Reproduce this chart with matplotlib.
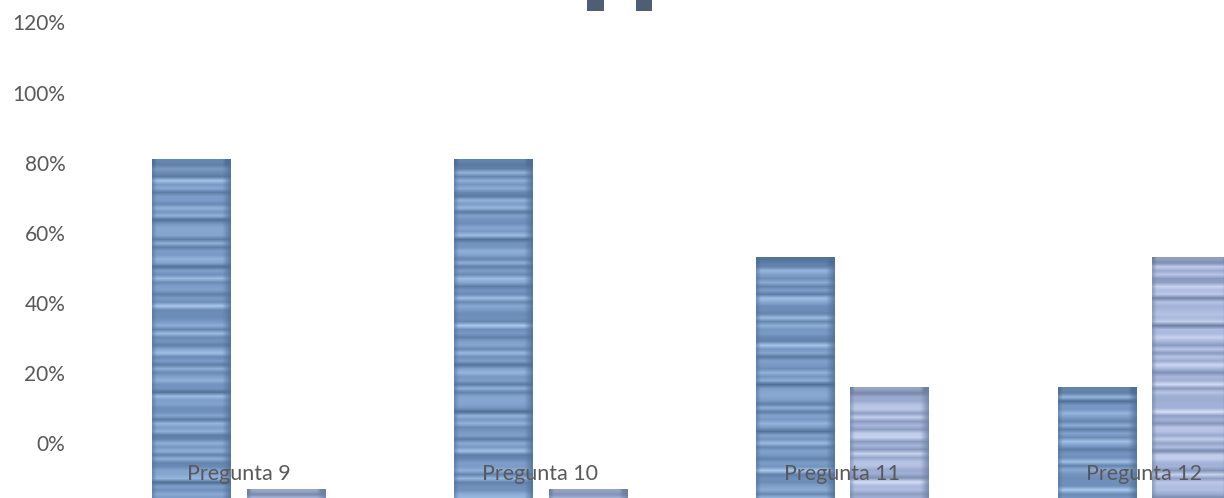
import numpy as np
import matplotlib
matplotlib.use("Agg")
import matplotlib.pyplot as plt
from matplotlib.colors import to_rgb
from matplotlib.patches import Rectangle
from matplotlib.transforms import blended_transform_factory

# ---- data -------------------------------------------------------------
categories = ["Pregunta 9", "Pregunta 10", "Pregunta 11", "Pregunta 12"]
serie_a = [0.97, 0.97, 0.69, 0.32]
serie_b = [0.03, 0.03, 0.32, 0.69]
pct_ticks = [0, 20, 40, 60, 80, 100, 120]
pct_labels = [f"{t}%" for t in pct_ticks]

# ---- style ------------------------------------------------------------
FONT = ["Lato", "DejaVu Sans"]
TEXT_GRAY = "#595959"
PAL_A = ("#4f6f96", "#7899c4", "#a9c9ee")   # dark / mid / light
PAL_B = ("#6e80a4", "#aab8de", "#d6e1f7")

W, H, DPI = 1224, 498, 100
fig = plt.figure(figsize=(W / DPI, H / DPI), dpi=DPI)
fig.patch.set_facecolor("white")

left_px = 75
rect = [left_px / W, 0, (W - left_px) / W, 1]

# percentage scale on the left
ax_pct = fig.add_axes(rect)
ax_pct.set_ylim(-15.7, 126.4)
ax_pct.set_yticks(pct_ticks)
ax_pct.set_yticklabels(pct_labels, fontsize=15, color=TEXT_GRAY, family=FONT)
ax_pct.tick_params(axis="y", length=0, pad=7)
ax_pct.set_xticks([])
for s in ax_pct.spines.values():
    s.set_visible(False)

# bars
ax = fig.add_axes(rect)
ax.patch.set_alpha(0)
x = np.arange(len(categories))
offset, width = 0.1566, 0.2586
bars_a = ax.bar(x - offset, serie_a, width, color=PAL_A[1], linewidth=0, zorder=1)
bars_b = ax.bar(x + offset, serie_b, width, color=PAL_B[1], linewidth=0, zorder=1)


def stripe_texture(n_rows, phase, pal):
    dark, mid, light = (np.array(to_rgb(c)) for c in pal)
    r = np.arange(n_rows)[:, None]
    f = (0.55 * np.sin(r * 1.31 + phase) * np.sin(r * 0.29 + 2 * phase)
         + 0.45 * np.sin(r * 2.73 + phase))
    f = np.clip(f * 1.1, -1, 1)
    n_cols = 40
    c = np.linspace(0, 1, n_cols)[None, :]
    edge = (np.clip(1 - c / 0.05, 0, 1) * 0.5
            + np.clip((c - 0.9) / 0.1, 0, 1) * 0.75)
    top = np.zeros((n_rows, 1))
    top[-2:] = 0.6
    edge = np.clip(edge + top, 0, 1)
    col = (mid + np.clip(f, 0, 1)[..., None] * (light - mid)
           + np.clip(-f, 0, 1)[..., None] * (dark - mid))
    col = np.broadcast_to(col, (n_rows, n_cols, 3)).copy()
    col = col * (1 - edge[..., None]) + dark * edge[..., None]
    return np.clip(col, 0, 1)


for k, (bars, pal) in enumerate([(bars_a, PAL_A), (bars_b, PAL_B)]):
    for j, p in enumerate(bars):
        h = p.get_height()
        rows = max(int(h * 90), 3)
        img = stripe_texture(rows, 0.7 * j + 1.9 * k, pal)
        ax.imshow(img, extent=(p.get_x(), p.get_x() + p.get_width(), 0, h),
                  origin="lower", aspect="auto", interpolation="bilinear",
                  zorder=2)

ax.set_xlim(-0.5428, 3.266)
ax.set_ylim(0.0057, 1.4235)
ax.set_xticks([])
ax.set_yticks([])
for s in ax.spines.values():
    s.set_visible(False)

# category names drawn over the bars
trans = blended_transform_factory(ax.transData, ax.transAxes)
for xi, name in zip(x, categories):
    ax.text(xi, 1 - 480 / H, name, transform=trans, ha="center",
            va="baseline", fontsize=15.5, color=TEXT_GRAY, family=FONT,
            zorder=5)

# legend keys at the top edge
for px0, pw in [(587, 17), (636, 16)]:
    fig.add_artist(Rectangle((px0 / W, 1 - 11 / H), pw / W, 11 / H,
                             transform=fig.transFigure,
                             facecolor="#4e5e74", edgecolor="none"))

fig.savefig("out.png", dpi=DPI, facecolor="white")
